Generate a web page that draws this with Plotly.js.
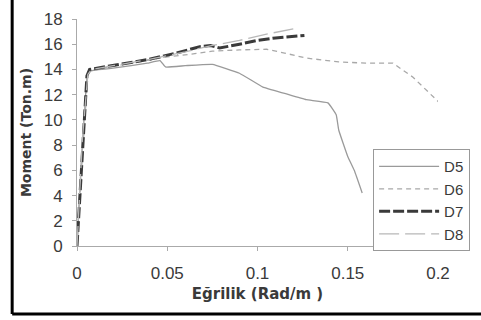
<!DOCTYPE html>
<html>
<head>
<meta charset="utf-8">
<script src="https://cdn.plot.ly/plotly-3.0.1.min.js"></script>
<style>
html,body{margin:0;padding:0;background:#fff;}
#chart{width:481px;height:320px;}
</style>
</head>
<body>
<div id="chart"></div>
<script>
// Curvature (Rad/m) and Moment (Ton.m) for each specimen
const d5X = [0, 0.001, 0.003, 0.005, 0.006, 0.01, 0.02, 0.03, 0.039, 0.046, 0.049, 0.06, 0.075, 0.09, 0.103, 0.115, 0.127, 0.139, 0.1436, 0.145, 0.15, 0.1536, 0.158];
const d5Y = [0, 3, 8, 12.5, 13.8, 13.95, 14.1, 14.3, 14.5, 14.7, 14.2, 14.3, 14.4, 13.7, 12.6, 12.1, 11.6, 11.35, 10.4, 9.2, 7.1, 6.0, 4.2];

const d6X = [0, 0.002, 0.006, 0.01, 0.03, 0.05, 0.0624, 0.075, 0.09, 0.105, 0.115, 0.127, 0.145, 0.16, 0.175, 0.178, 0.186, 0.2005];
const d6Y = [0, 5, 13.7, 14.0, 14.5, 15.0, 15.2, 15.45, 15.55, 15.6, 15.3, 14.9, 14.6, 14.5, 14.5, 14.2, 13.4, 11.4];

const d7X = [0, 0.001, 0.003, 0.0055, 0.007, 0.02, 0.04, 0.055, 0.068, 0.074, 0.079, 0.09, 0.1, 0.11, 0.126];
const d7Y = [0, 2.5, 8, 13.5, 14.0, 14.3, 14.8, 15.3, 15.8, 15.9, 15.7, 16.0, 16.3, 16.5, 16.7];

const d8X = [0, 0.001, 0.003, 0.006, 0.008, 0.02, 0.04, 0.06, 0.075, 0.09, 0.105, 0.123];
const d8Y = [0, 3, 8.5, 13.6, 14.0, 14.3, 14.8, 15.4, 15.9, 16.3, 16.8, 17.3];

const seriesNames = ["D5", "D6", "D7", "D8"];
const xTitle = "Eğrilik (Rad/m )";
const yTitle = "Moment (Ton.m)";

const traces = [
  {x: d5X, y: d5Y, name: seriesNames[0], mode: "lines", line: {color: "#9a9a9a", width: 1.3, shape: "spline", smoothing: 0.3}},
  {x: d6X, y: d6Y, name: seriesNames[1], mode: "lines", line: {color: "#a8a8a8", width: 1.3, dash: "5px,4px"}},
  {x: d7X, y: d7Y, name: seriesNames[2], mode: "lines", line: {color: "#3a3a3a", width: 3, dash: "11px,3px"}},
  {x: d8X, y: d8Y, name: seriesNames[3], mode: "lines", line: {color: "#b8b8b8", width: 1.3, dash: "20px,6px"}}
];

const layout = {
  width: 481, height: 320,
  margin: {l: 77, r: 42, t: 19, b: 74, pad: 0},
  paper_bgcolor: "#fff", plot_bgcolor: "#fff",
  font: {family: "Liberation Sans, Arial, sans-serif", color: "#3a3a3a"},
  showlegend: true,
  legend: {
    x: 0.818, y: 0.427, xanchor: "left", yanchor: "top",
    bordercolor: "#999", borderwidth: 1, bgcolor: "#fff",
    font: {size: 15, color: "#3a3a3a"},
    itemwidth: 60, tracegroupgap: 0
  },
  xaxis: {
    range: [0, 0.2], dtick: 0.05, tick0: 0,
    showgrid: false, zeroline: false,
    showline: true, linecolor: "#aaa", linewidth: 1,
    ticks: "outside", ticklen: 4, tickcolor: "#aaa",
    tickfont: {size: 17, color: "#3a3a3a"},
    ticklabelstandoff: 8,
    title: {text: xTitle, font: {family: "DejaVu Sans, sans-serif", size: 15, weight: "bold", color: "#3a3a3a"}, standoff: 6}
  },
  yaxis: {
    range: [0, 18], dtick: 2, tick0: 0,
    showgrid: false, zeroline: false,
    showline: true, linecolor: "#aaa", linewidth: 1,
    ticks: "outside", ticklen: 4, tickcolor: "#aaa",
    tickfont: {size: 17, color: "#3a3a3a"},
    ticklabelstandoff: 6,
    title: {text: yTitle, font: {family: "DejaVu Sans, sans-serif", size: 14, weight: "bold", color: "#3a3a3a"}, standoff: 8}
  },
  shapes: [
    {type: "line", xref: "paper", yref: "paper", x0: -0.1796, x1: -0.1796, y0: -0.3, y1: 1.2, line: {color: "#000", width: 3}},
    {type: "line", xref: "paper", yref: "paper", x0: -0.1796, x1: 1.2, y0: -0.2996, y1: -0.2996, line: {color: "#000", width: 3}}
  ]
};

Plotly.newPlot("chart", traces, layout, {displayModeBar: false, staticPlot: true});
</script>
</body>
</html>
